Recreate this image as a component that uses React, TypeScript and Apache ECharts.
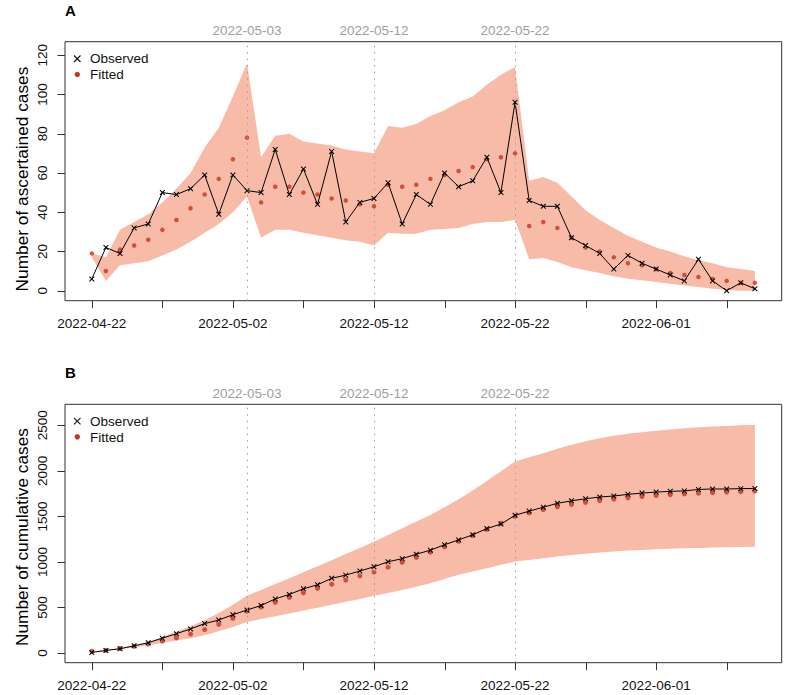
import { useEffect, useRef } from "react";
import * as echarts from "echarts";

// Day index 0 = 2022-04-22
const xTickDays = [0, 5, 10, 15, 20, 25, 30, 35, 40, 45];
const xLabelDays = [0, 10, 20, 30, 40];
const xLabelText = ["2022-04-22", "2022-05-02", "2022-05-12", "2022-05-22", "2022-06-01"];
const markerDays = [11, 20, 30];
const markerText = ["2022-05-03", "2022-05-12", "2022-05-22"];

const yTicksA = [0, 20, 40, 60, 80, 100, 120];
const yTicksB = [0, 500, 1000, 1500, 2000, 2500];
const legendNames = ["Observed", "Fitted"];

// Panel A: daily ascertained cases
const dailyObserved = [6, 22, 19, 32, 34, 50, 49, 52, 59, 39, 59, 51, 50, 72, 49, 62, 44, 71, 35, 45, 47, 55, 34, 49, 44, 60, 53, 56, 68, 50, 96, 46, 43, 43, 27, 23, 19, 11, 18, 14, 11, 8, 5, 16, 5, 0, 4, 1];
const dailyFitted = [19, 10, 21, 23, 26, 31, 36, 42, 49, 57, 67, 78, 45, 53, 53, 50, 49, 47, 46, 44, 43, 54, 53, 54, 57, 59, 61, 63, 67, 68, 70, 33, 35, 32, 27, 22, 20, 17, 14, 13, 11, 9, 8, 7, 6, 5, 4, 4];
const dailyUpper = [19, 17, 31, 35, 39, 45, 52, 60, 73, 83, 99, 116, 68, 79, 80, 76, 75, 74, 72, 71, 70, 84, 83, 85, 89, 92, 96, 99, 105, 110, 114, 56, 58, 55, 48, 41, 36, 32, 28, 25, 22, 20, 17.5, 15.5, 14, 12, 11, 10];
const dailyLower = [17, 5, 13, 14, 15, 18, 21, 25, 29.5, 34, 40, 48, 27, 31, 31, 29.5, 28.3, 27, 25.7, 25, 23, 29.5, 29, 29, 31, 31.5, 32, 34, 35, 35, 36, 16, 16.7, 14.6, 12, 10.4, 9, 7.3, 6.1, 5.3, 4.4, 3.6, 2.7, 1.9, 1, 0.3, 0, 0];

// Panel B: cumulative cases
const cumObserved = [6, 28, 47, 79, 113, 163, 212, 264, 323, 362, 421, 472, 522, 594, 643, 705, 749, 820, 855, 900, 947, 1002, 1036, 1085, 1129, 1189, 1242, 1298, 1366, 1416, 1512, 1558, 1601, 1644, 1671, 1694, 1713, 1724, 1742, 1756, 1767, 1775, 1780, 1796, 1801, 1801, 1805, 1806];
const cumFitted = [19, 29, 50, 73, 99, 130, 166, 208, 257, 314, 381, 459, 504, 557, 610, 660, 709, 756, 802, 846, 889, 943, 996, 1050, 1107, 1166, 1227, 1290, 1357, 1425, 1500, 1538, 1574, 1605, 1632, 1654, 1673, 1690, 1705, 1718, 1729, 1739, 1747, 1755, 1761, 1767, 1772, 1777];
const cumUpper = [19, 34, 56, 84, 122, 175, 235, 295, 360, 440, 530, 630, 693, 757, 822, 888, 953, 1019, 1086, 1153, 1222, 1295, 1370, 1443, 1516, 1600, 1688, 1785, 1888, 1995, 2102, 2150, 2194, 2242, 2286, 2325, 2359, 2385, 2407, 2425, 2440, 2455, 2469, 2479, 2487, 2494, 2500, 2505];
const cumLower = [17, 24, 42, 62, 85, 110, 136, 162, 195, 240, 285, 340, 372, 403, 434, 466, 497, 530, 562, 594, 628, 660, 692, 728, 766, 812, 858, 894, 930, 968, 1004, 1022, 1040, 1059, 1077, 1090, 1103, 1115, 1125, 1132, 1139, 1145, 1150, 1154, 1158, 1162, 1165, 1168];

const FONT = "'Liberation Sans', Arial, Helvetica, sans-serif";
const BAND = "#f7bba7";
const RED = "#c8321f";
const GREY = "#9e9e9e";
const AXIS = "#333";
const TICK_LEN = 7.5;
const CROSS =
  "path://M0,1.3 L1.3,0 L5,3.7 L8.7,0 L10,1.3 L6.3,5 L10,8.7 L8.7,10 L5,6.3 L1.3,10 L0,8.7 L3.7,5 Z";

const pairs = (arr: number[]) => arr.map((v, i) => [i, v]);

function tickSeries(idx: number, yTicks: number[]) {
  return [
    {
      name: "_xticks" + idx,
      type: "custom",
      xAxisIndex: idx,
      yAxisIndex: idx,
      silent: true,
      clip: false,
      z: 5,
      data: xTickDays.map((d) => [d, yTicks[0]]),
      encode: { x: 0, y: 1 },
      renderItem: (params: any, api: any) => {
        const cs = params.coordSys;
        const x = Math.round(api.coord([api.value(0), api.value(1)])[0]) + 0.5;
        const yb = cs.y + cs.height;
        return {
          type: "line",
          shape: { x1: x, y1: yb, x2: x, y2: yb + TICK_LEN },
          style: { stroke: AXIS, lineWidth: 1 },
        };
      },
    },
    {
      name: "_yticks" + idx,
      type: "custom",
      xAxisIndex: idx,
      yAxisIndex: idx,
      silent: true,
      clip: false,
      z: 5,
      data: yTicks.map((v) => [xTickDays[0], v]),
      encode: { x: 0, y: 1 },
      renderItem: (params: any, api: any) => {
        const cs = params.coordSys;
        const y = Math.round(api.coord([api.value(0), api.value(1)])[1]) + 0.5;
        return {
          type: "line",
          shape: { x1: cs.x - TICK_LEN, y1: y, x2: cs.x, y2: y },
          style: { stroke: AXIS, lineWidth: 1 },
        };
      },
    },
  ];
}

function buildPanel(
  idx: number,
  observed: number[],
  fitted: number[],
  lower: number[],
  upper: number[],
  symSize: number
) {
  return [
    {
      name: "_band" + idx,
      type: "custom",
      xAxisIndex: idx,
      yAxisIndex: idx,
      silent: true,
      z: 1,
      data: upper.map((v, i) => [i, lower[i], v]),
      encode: { x: 0, y: [1, 2] },
      renderItem: (params: any, api: any) => {
        if (params.dataIndex !== 0) return null;
        const pts: number[][] = [];
        for (let i = 0; i < upper.length; i++) pts.push(api.coord([i, upper[i]]));
        for (let i = lower.length - 1; i >= 0; i--) pts.push(api.coord([i, lower[i]]));
        return { type: "polygon", shape: { points: pts }, style: { fill: BAND, stroke: null } };
      },
      markLine: {
        silent: true,
        symbol: ["none", "none"],
        lineStyle: { color: GREY, type: [1.5, 5], width: 1 },
        label: {
          show: true,
          position: "end",
          color: GREY,
          fontSize: 13.5,
          fontFamily: FONT,
          distance: 4,
          formatter: "{b}",
        },
        data: markerDays.map((d, i) => ({ xAxis: d, name: markerText[i] })),
      },
    },
    {
      name: "Fitted",
      type: "scatter",
      xAxisIndex: idx,
      yAxisIndex: idx,
      data: pairs(fitted),
      symbol: "circle",
      symbolSize: symSize,
      itemStyle: { color: RED },
      z: 3,
    },
    {
      name: "Observed",
      type: "line",
      xAxisIndex: idx,
      yAxisIndex: idx,
      data: pairs(observed),
      symbol: CROSS,
      symbolSize: 5.5,
      itemStyle: { color: "#000" },
      lineStyle: { color: "#000", width: 1 },
      z: 4,
    },
  ];
}

function xAxisDef(idx: number) {
  return {
    type: "value",
    gridIndex: idx,
    min: -1.9,
    max: 48.9,
    axisLine: { show: false, onZero: false },
    splitLine: { show: false },
    axisTick: { show: false },
    axisLabel: {
      customValues: xLabelDays,
      formatter: (v: number) => xLabelText[xLabelDays.indexOf(Math.round(v))] ?? "",
      fontSize: 13.5,
      fontFamily: FONT,
      color: "#111",
      margin: 16,
    },
  };
}

function yAxisDef(idx: number, min: number, max: number, ticks: number[]) {
  return {
    type: "value",
    gridIndex: idx,
    min,
    max,
    axisLine: { show: false, onZero: false },
    splitLine: { show: false },
    axisTick: { show: false },
    axisLabel: {
      customValues: ticks,
      formatter: (v: number) => String(Math.round(v)),
      rotate: 90,
      fontSize: 13.5,
      fontFamily: FONT,
      color: "#111",
      margin: 15.5,
    },
  };
}

function legendGraphics(cy: number) {
  return [
    { type: "line", shape: { x1: 74, y1: cy - 3, x2: 80.5, y2: cy + 3.5 }, style: { stroke: "#111", lineWidth: 1.1 } },
    { type: "line", shape: { x1: 80.5, y1: cy - 3, x2: 74, y2: cy + 3.5 }, style: { stroke: "#111", lineWidth: 1.1 } },
    { type: "text", x: 90, y: cy + 0.3, style: { text: legendNames[0], fontSize: 13.5, fontFamily: FONT, fill: "#111", textVerticalAlign: "middle" } },
    { type: "circle", shape: { cx: 77.3, cy: cy + 16, r: 2.7 }, style: { fill: RED } },
    { type: "text", x: 90, y: cy + 16.3, style: { text: legendNames[1], fontSize: 13.5, fontFamily: FONT, fill: "#111", textVerticalAlign: "middle" } },
  ];
}

export default function App() {
  const ref = useRef<HTMLDivElement>(null);

  useEffect(() => {
    document.body.style.margin = "0";
    if (!ref.current) return;
    const chart = echarts.init(ref.current, null, { renderer: "svg" });
    chart.setOption({
      animation: false,
      backgroundColor: "#ffffff",
      textStyle: { fontFamily: FONT },
      title: [
        { text: "A", left: 65, top: 3, padding: 0, textStyle: { fontSize: 15, fontWeight: "bold", color: "#000", fontFamily: FONT } },
        { text: "B", left: 65, top: 365, padding: 0, textStyle: { fontSize: 15, fontWeight: "bold", color: "#000", fontFamily: FONT } },
      ],
      grid: [
        { left: 65, top: 41.7, width: 716.7, height: 259, show: true, borderColor: AXIS, borderWidth: 1, backgroundColor: "transparent" },
        { left: 65, top: 404.3, width: 716.7, height: 258.4, show: true, borderColor: AXIS, borderWidth: 1, backgroundColor: "transparent" },
      ],
      xAxis: [xAxisDef(0), xAxisDef(1)],
      yAxis: [yAxisDef(0, -5.1, 126.9, yTicksA), yAxisDef(1, -106.5, 2731, yTicksB)],
      graphic: [
        {
          type: "text",
          x: 21.5,
          y: 179,
          rotation: Math.PI / 2,
          style: { text: "Number of ascertained cases", fontSize: 17.3, fontFamily: FONT, fill: "#000", textAlign: "center", textVerticalAlign: "middle" },
        },
        {
          type: "text",
          x: 21.5,
          y: 537,
          rotation: Math.PI / 2,
          style: { text: "Number of cumulative cases", fontSize: 17.3, fontFamily: FONT, fill: "#000", textAlign: "center", textVerticalAlign: "middle" },
        },
        ...legendGraphics(58.5),
        ...legendGraphics(420.8),
      ],
      series: [
        ...buildPanel(0, dailyObserved, dailyFitted, dailyLower, dailyUpper, 4.5),
        ...buildPanel(1, cumObserved, cumFitted, cumLower, cumUpper, 5),
        ...tickSeries(0, yTicksA),
        ...tickSeries(1, yTicksB),
      ],
    });
    return () => chart.dispose();
  }, []);

  return (
    <div
      ref={ref}
      style={{ position: "absolute", left: 0, top: 0, width: 785, height: 695, background: "#fff" }}
    />
  );
}
